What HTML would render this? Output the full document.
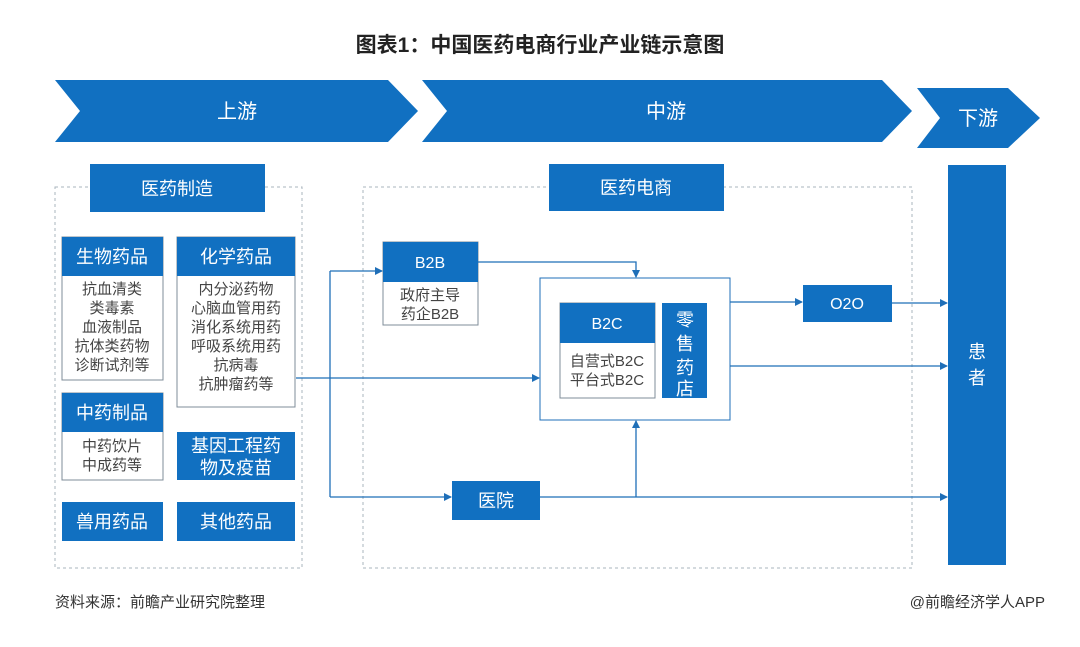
<!DOCTYPE html>
<html><head><meta charset="utf-8"><style>
body{margin:0;background:#fff;}
svg text{font-family:"Liberation Sans","Noto Sans CJK SC",sans-serif;}
</style></head><body>
<svg width="1080" height="642" viewBox="0 0 1080 642" xmlns="http://www.w3.org/2000/svg">
<defs><marker id="a" markerWidth="8" markerHeight="8" refX="7" refY="4" orient="auto" markerUnits="userSpaceOnUse"><path d="M0,0 L8,4 L0,8 z" fill="#1f6fb8"/></marker></defs>
<text x="540" y="52" font-size="21" font-weight="bold" text-anchor="middle" fill="#222">图表1：中国医药电商行业产业链示意图</text>
<g fill="#1170c1">
<polygon points="55,80 388,80 418,111 388,142 55,142 80,111"/>
<polygon points="422,80 882,80 912,111 882,142 422,142 447,111"/>
<polygon points="917,88 1008,88 1040,118 1008,148 917,148 940,118"/>
</g>
<g fill="#fff" font-size="20" text-anchor="middle">
<text x="237" y="118">上游</text><text x="666" y="118">中游</text><text x="978" y="125">下游</text>
</g>
<g fill="none" stroke="#aab4bd" stroke-dasharray="3,3">
<rect x="55" y="187" width="247" height="381"/>
<rect x="363" y="187" width="549" height="381"/>
</g>
<g fill="#1170c1">
<rect x="90" y="164" width="175" height="48"/>
<rect x="549" y="164" width="175" height="47"/>
<rect x="948" y="165" width="58" height="400"/>
</g>
<g fill="#fff" stroke="#7f8c99" stroke-width="1">
<rect x="62" y="237" width="101" height="143"/>
<rect x="177" y="237" width="118" height="170"/>
<rect x="62" y="393" width="101" height="87"/>
<rect x="383" y="242" width="95" height="83"/>
<rect x="540" y="278" width="190" height="142" stroke="#1f6fb8"/>
<rect x="560" y="303" width="95" height="95"/>
</g>
<g fill="#1170c1">
<rect x="62" y="237" width="101" height="39"/>
<rect x="177" y="237" width="118" height="39"/>
<rect x="62" y="393" width="101" height="39"/>
<rect x="177" y="432" width="118" height="48"/>
<rect x="62" y="502" width="101" height="39"/>
<rect x="177" y="502" width="118" height="39"/>
<rect x="383" y="242" width="95" height="40"/>
<rect x="560" y="303" width="95" height="40"/>
<rect x="662" y="303" width="45" height="95"/>
<rect x="803" y="285" width="89" height="37"/>
<rect x="452" y="481" width="88" height="39"/>
</g>
<g fill="#fff" text-anchor="middle" font-size="18">
<text x="177" y="195">医药制造</text>
<text x="636" y="194">医药电商</text>
<text x="112" y="263">生物药品</text>
<text x="236" y="263">化学药品</text>
<text x="112" y="419">中药制品</text>
<text x="236" y="452">基因工程药</text>
<text x="236" y="474">物及疫苗</text>
<text x="112" y="528">兽用药品</text>
<text x="236" y="528">其他药品</text>
<text x="496" y="507">医院</text>
<text x="977" y="358">患</text><text x="977" y="384">者</text>
<text x="685" y="326">零</text><text x="685" y="350">售</text><text x="685" y="374">药</text><text x="685" y="395">店</text>
</g>
<g fill="#fff" text-anchor="middle" font-size="16">
<text x="430" y="268">B2B</text>
<text x="607" y="329">B2C</text>
<text x="847" y="309">O2O</text>
</g>
<g fill="#444" text-anchor="middle" font-size="15">
<text x="112" y="294">抗血清类</text><text x="112" y="313">类毒素</text><text x="112" y="332">血液制品</text><text x="112" y="351">抗体类药物</text><text x="112" y="370">诊断试剂等</text>
<text x="236" y="294">内分泌药物</text><text x="236" y="313">心脑血管用药</text><text x="236" y="332">消化系统用药</text><text x="236" y="351">呼吸系统用药</text><text x="236" y="370">抗病毒</text><text x="236" y="389">抗肿瘤药等</text>
<text x="112" y="451">中药饮片</text><text x="112" y="470">中成药等</text>
<text x="430" y="300">政府主导</text><text x="430" y="319">药企B2B</text>
<text x="607" y="366">自营式B2C</text><text x="607" y="385">平台式B2C</text>
</g>
<g fill="none" stroke="#1f6fb8" stroke-width="1.3">
<path d="M296,378 H330"/>
<path d="M330,271 V497"/>
<path d="M330,271 H382" marker-end="url(#a)"/>
<path d="M330,378 H539" marker-end="url(#a)"/>
<path d="M330,497 H451" marker-end="url(#a)"/>
<path d="M540,497 H947" marker-end="url(#a)"/>
<path d="M636,497 V421" marker-end="url(#a)"/>
<path d="M478,262 H636 V277" marker-end="url(#a)"/>
<path d="M730,302 H802" marker-end="url(#a)"/>
<path d="M892,303 H947" marker-end="url(#a)"/>
<path d="M730,366 H947" marker-end="url(#a)"/>
</g>
<text x="55" y="607" font-size="15" fill="#333">资料来源：前瞻产业研究院整理</text>
<text x="1045" y="607" font-size="15" fill="#333" text-anchor="end">@前瞻经济学人APP</text>
</svg>
</body></html>
